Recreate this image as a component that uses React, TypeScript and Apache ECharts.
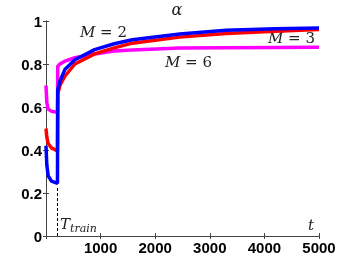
import React, { useEffect, useRef } from "react";
import * as echarts from "echarts";

const times = [0, 15, 40, 100, 210, 215, 255, 345, 530, 890, 1250, 1580, 2450, 3300, 4200, 5000];
const alphaM2 = [0.42, 0.33, 0.28, 0.255, 0.245, 0.68, 0.72, 0.774, 0.82, 0.867, 0.894, 0.913, 0.94, 0.957, 0.964, 0.968];
const alphaM3 = [0.50, 0.46, 0.43, 0.41, 0.395, 0.66, 0.70, 0.743, 0.80, 0.847, 0.875, 0.897, 0.925, 0.942, 0.952, 0.96];
const alphaM6 = [0.70, 0.62, 0.59, 0.58, 0.575, 0.79, 0.80, 0.813, 0.829, 0.847, 0.86, 0.865, 0.874, 0.876, 0.877, 0.878];
const seriesNames = ["M = 6", "M = 3", "M = 2"];
const tTrain = 212;
const xTicks = [0, 1000, 2000, 3000, 4000, 5000];
const yTicks = [0, 0.2, 0.4, 0.6, 0.8, 1];

export default function App() {
  const ref = useRef<HTMLDivElement>(null);
  useEffect(() => {
    if (!ref.current) return;
    const chart = echarts.init(ref.current, null, { renderer: "svg" });
    const pair = (vals: number[]) => times.map((t, i) => [t, vals[i]]);
    const axisLine = { show: true, lineStyle: { color: "#444", width: 1 } };
    const ticks = { show: true, inside: true, length: 3, lineStyle: { color: "#444" } };
    const lbl = { fontFamily: "Liberation Sans", fontWeight: "bold" as const, fontSize: 15, color: "#000" };
    const mathText = (text: string, x: number, y: number) => ({
      type: "text",
      x,
      y,
      style: {
        text,
        rich: {
          i: { fontFamily: "DejaVu Serif", fontStyle: "italic", fontSize: 15, fill: "#222" },
          r: { fontFamily: "DejaVu Serif", fontSize: 15, fill: "#222" },
        },
        verticalAlign: "middle",
      },
    });
    chart.setOption({
      animation: false,
      grid: { left: 46, right: 35, top: 21, bottom: 30 },
      xAxis: [
        {
          type: "value", min: xTicks[0], max: xTicks[xTicks.length - 1], interval: 1000,
          axisLine, axisTick: ticks, splitLine: { show: false },
          axisLabel: { ...lbl, margin: 4, formatter: (v: number) => (v === 0 ? "" : String(v)) },
        },
        {
          type: "value", position: "top", min: 0, max: 5000, interval: 1000,
          axisLine, axisTick: ticks, splitLine: { show: false }, axisLabel: { show: false },
        },
      ],
      yAxis: [
        {
          type: "value", min: yTicks[0], max: yTicks[yTicks.length - 1], interval: 0.2,
          axisLine, axisTick: ticks, splitLine: { show: false },
          axisLabel: { ...lbl, margin: 4 },
        },
        {
          type: "value", position: "right", min: 0, max: 1, interval: 0.2,
          axisLine, axisTick: ticks, splitLine: { show: false }, axisLabel: { show: false },
        },
      ],
      series: [
        {
          name: seriesNames[0], type: "line", data: pair(alphaM6), showSymbol: false,
          lineStyle: { color: "#ff00ff", width: 3.5 },
        },
        {
          name: seriesNames[1], type: "line", data: pair(alphaM3), showSymbol: false,
          lineStyle: { color: "#ff0000", width: 3.5 },
        },
        {
          name: seriesNames[2], type: "line", data: pair(alphaM2), showSymbol: false,
          lineStyle: { color: "#0000ff", width: 3.5 },
          markLine: {
            silent: true, symbol: ["none", "none"], label: { show: false },
            lineStyle: { color: "#000", type: [3, 2], width: 1 },
            data: [[{ coord: [tTrain, 0] }, { coord: [tTrain, 0.23] }]],
          },
        },
      ],
      graphic: [
        {
          type: "text", x: 177, y: 9,
          style: { text: "α", fontFamily: "DejaVu Serif", fontStyle: "italic", fontSize: 16, fill: "#222", align: "center", verticalAlign: "middle" },
        },
        mathText("{i|M}{r| = 2}", 80, 32),
        mathText("{i|M}{r| = 3}", 268, 38),
        mathText("{i|M}{r| = 6}", 165, 62),
        {
          type: "text", x: 60, y: 224,
          style: {
            text: "{i|T}{s|train}",
            rich: {
              i: { fontFamily: "DejaVu Serif", fontStyle: "italic", fontSize: 15, fill: "#222" },
              s: { fontFamily: "DejaVu Serif", fontStyle: "italic", fontSize: 11, fill: "#222", padding: [8, 0, 0, 0] },
            },
            verticalAlign: "middle",
          },
        },
        {
          type: "text", x: 308, y: 225,
          style: { text: "t", fontFamily: "DejaVu Serif", fontStyle: "italic", fontSize: 15, fill: "#222", verticalAlign: "middle" },
        },
      ],
    });
    return () => chart.dispose();
  }, []);
  return <div ref={ref} style={{ position: "fixed", left: 0, top: 0, width: 354, height: 266 }} />;
}
